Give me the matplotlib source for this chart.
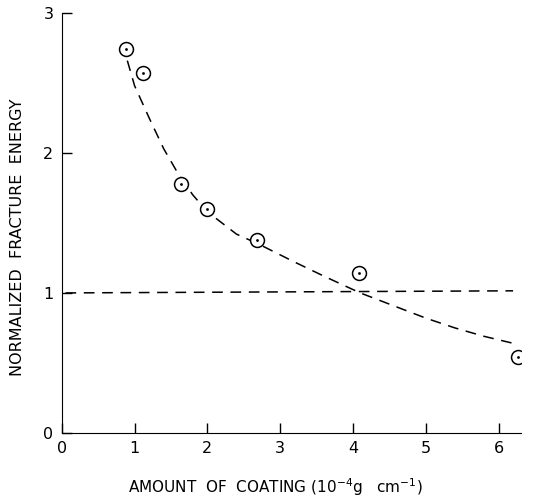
import matplotlib
matplotlib.use("Agg")
from matplotlib import pyplot as plt

# Measured points
coating = [0.88, 1.11, 1.64, 2.0, 2.68, 4.08, 6.27]
energy = [2.74, 2.57, 1.78, 1.60, 1.38, 1.14, 0.545]

# Dashed trend curve
curve_x = [0.9, 1.0, 1.2, 1.4, 1.6, 1.8, 2.0, 2.4, 2.7, 3.2, 3.6, 4.1, 4.6, 5.0, 5.4, 5.8, 6.2]
curve_y = [2.66, 2.48, 2.25, 2.03, 1.85, 1.70, 1.58, 1.42, 1.35, 1.22, 1.12, 1.00, 0.90, 0.82, 0.75, 0.69, 0.64]

# Reference level
ref_x = [0.05, 6.2]
ref_y = [1.0, 1.015]

x_ticks = [0, 1, 2, 3, 4, 5, 6]
y_ticks = [0, 1, 2, 3]

plt.rcParams["font.family"] = ["DejaVu Sans"]

fig = plt.figure(figsize=(5.52, 5.01), dpi=100)
ax = fig.add_axes([0.112, 0.136, 0.832, 0.838])

ax.plot(curve_x, curve_y, color="k", linewidth=1.1, dashes=(7, 5))
ax.plot(ref_x, ref_y, color="k", linewidth=1.1, dashes=(7, 5))

ax.plot(coating, energy, linestyle="none", marker="o", markersize=10,
        markerfacecolor="white", markeredgecolor="k", markeredgewidth=1.1)
ax.plot(coating, energy, linestyle="none", marker=".", markersize=2, color="k")

ax.set_xlim(0, 6.31)
ax.set_ylim(0, 3)
ax.set_xticks(x_ticks)
ax.set_yticks(y_ticks)

ax.spines["top"].set_visible(False)
ax.spines["right"].set_visible(False)
ax.tick_params(direction="in", length=7, width=1, labelsize=11.5, pad=6)

ax.set_xlabel("AMOUNT  OF  COATING (10$^{-4}$g   cm$^{-1}$)", fontsize=11, va="center")
ax.set_ylabel("NORMALIZED  FRACTURE  ENERGY", fontsize=11.5, va="center")
ax.xaxis.set_label_coords(0.464, -0.129)
ax.yaxis.set_label_coords(-0.096, 0.467)

fig.savefig("out.png", dpi=100)
